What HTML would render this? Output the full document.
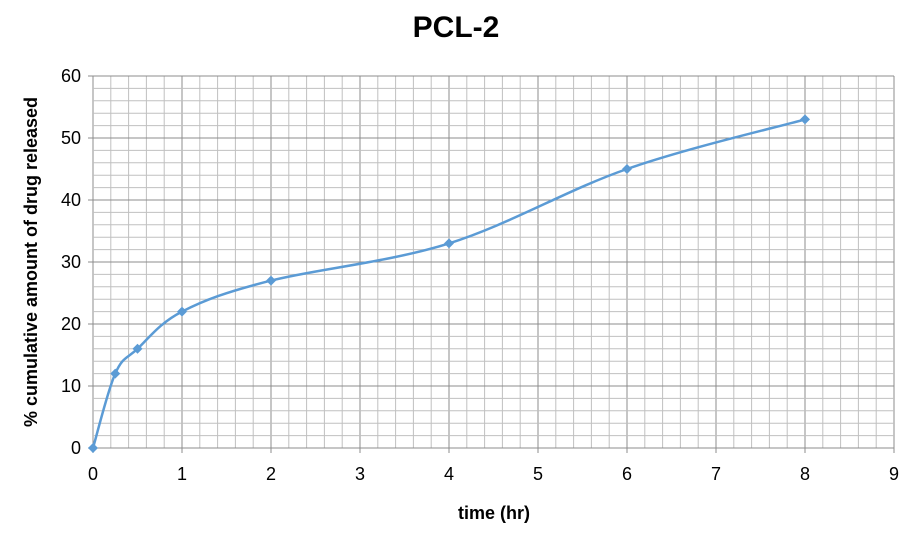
<!DOCTYPE html>
<html><head><meta charset="utf-8"><style>
body{margin:0;background:#fff;}
svg{display:block;font-family:"Liberation Sans",Calibri,sans-serif;}
</style></head><body>
<svg id="chart" width="914" height="533">
<text x="456" y="37" text-anchor="middle" font-size="30" font-weight="bold">PCL-2</text>
<g id="grid"></g>
<g id="axes"></g>
<path id="line" fill="none" stroke="#5b9bd5" stroke-width="2.5"></path>
<g id="pts"></g>
<text x="494" y="519" text-anchor="middle" font-size="18" font-weight="bold">time (hr)</text>
<text transform="translate(37,262) rotate(-90)" text-anchor="middle" font-size="18" font-weight="bold">% cumulative amount of drug released</text>
</svg>
<script>
const times=[0,0.25,0.5,1,2,4,6,8];
const released=[0,12,16,22,27,33,45,53];
const xTicks=[0,1,2,3,4,5,6,7,8,9];
const yTicks=[0,10,20,30,40,50,60];
const NS="http://www.w3.org/2000/svg";
const X0=93,X1=894,Y0=448,Y1=76;
const sx=v=>X0+(v-0)/9*(X1-X0);
const sy=v=>Y0-(v-0)/60*(Y0-Y1);
function mk(t,a,p){const e=document.createElementNS(NS,t);for(const k in a)e.setAttribute(k,a[k]);p.appendChild(e);return e;}
const grid=document.getElementById('grid'),axes=document.getElementById('axes');
for(let i=0;i<=45;i++){const v=i*0.2;const major=i%5===0;
 const l=mk('line',{x1:sx(v),x2:sx(v),y1:Y1,y2:Y0+(major?5:0),stroke:major?'#8c8c8c':'#c0c0c0','stroke-width':1},grid);
 
 }
for(let i=0;i<=30;i++){const v=i*2;const major=i%5===0;
 const l=mk('line',{x1:X0-(major?5:0),x2:X1,y1:sy(v),y2:sy(v),stroke:major?'#8c8c8c':'#c0c0c0','stroke-width':1},grid);
 
 }
xTicks.forEach(v=>{const t=mk('text',{x:sx(v),y:Y0+32,'text-anchor':'middle','font-size':18},axes);t.textContent=v;
 
 });
yTicks.forEach(v=>{const t=mk('text',{x:X0-12,y:sy(v)+6,'text-anchor':'end','font-size':18},axes);t.textContent=v;
 
 });
const P=times.map((t,i)=>[sx(t),sy(released[i])]);
let d='M'+P[0][0]+','+P[0][1];
for(let i=0;i<P.length-1;i++){const p0=P[Math.max(0,i-1)],p1=P[i],p2=P[i+1],p3=P[Math.min(P.length-1,i+2)];const k=0.17;
 d+=` C${p1[0]+(p2[0]-p0[0])*k},${p1[1]+(p2[1]-p0[1])*k} ${p2[0]-(p3[0]-p1[0])*k},${p2[1]-(p3[1]-p1[1])*k} ${p2[0]},${p2[1]}`;}
document.getElementById('line').setAttribute('d',d);
const pts=document.getElementById('pts');
P.forEach(p=>{const m=mk('polygon',{points:`${p[0]},${p[1]-5} ${p[0]+5},${p[1]} ${p[0]},${p[1]+5} ${p[0]-5},${p[1]}`,fill:'#5b9bd5'},pts);
 
 });
</script>
</body></html>
